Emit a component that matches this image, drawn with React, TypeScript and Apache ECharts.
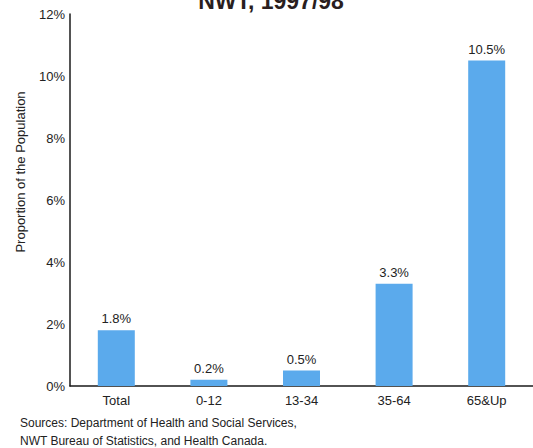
import React, { useEffect, useRef } from "react";
import * as echarts from "echarts";

const categories = ["Total", "0-12", "13-34", "35-64", "65&Up"];
const values = [1.8, 0.2, 0.5, 3.3, 10.5];
const yTicks = [0, 2, 4, 6, 8, 10, 12];
const titleText = "NWT, 1997/98";
const yAxisTitle = "Proportion of the Population";
const sourceLines = [
  "Sources: Department of Health and Social Services,",
  "NWT Bureau of Statistics, and Health Canada.",
];

const FONT = "'Liberation Sans', Arial, Helvetica, sans-serif";

export default function App() {
  const ref = useRef<HTMLDivElement>(null);
  useEffect(() => {
    if (!ref.current) return;
    const chart = echarts.init(ref.current, null, { renderer: "svg" });
    chart.setOption({
      animation: false,
      backgroundColor: "#ffffff",
      textStyle: { fontFamily: FONT },
      grid: { left: 70, top: 14, width: 470, height: 372, containLabel: false },
      xAxis: {
        type: "category",
        data: categories,
        boundaryGap: true,
        axisLine: { lineStyle: { color: "#1a1a1a", width: 1.5 } },
        axisTick: { show: false },
        axisLabel: { color: "#222", fontSize: 13, margin: 8, fontFamily: FONT },
      },
      yAxis: {
        type: "value",
        min: yTicks[0],
        max: yTicks[yTicks.length - 1],
        interval: 2,
        axisLine: { show: true, lineStyle: { color: "#1a1a1a", width: 1.5 } },
        axisTick: { show: false },
        splitLine: { show: false },
        axisLabel: {
          color: "#222",
          fontSize: 13,
          margin: 5,
          fontFamily: FONT,
          formatter: (v: number) => `${v}%`,
        },
      },
      series: [
        {
          type: "bar",
          data: values,
          barWidth: 37,
          itemStyle: { color: "#5baaec" },
          label: {
            show: true,
            position: "top",
            distance: 5,
            color: "#222",
            fontSize: 13,
            fontFamily: FONT,
            formatter: (p: any) => `${Number(p.value).toFixed(1)}%`,
          },
        },
      ],
      graphic: [
        {
          type: "text",
          x: 271,
          y: 12,
          style: {
            text: titleText,
            font: `bold 23px ${FONT}`,
            fill: "#2a1e1e",
            textAlign: "center",
            textVerticalAlign: "bottom",
          },
        },
        {
          type: "text",
          x: 20,
          y: 172,
          rotation: Math.PI / 2,
          style: {
            text: yAxisTitle,
            font: `13px ${FONT}`,
            fill: "#222",
            textAlign: "center",
            textVerticalAlign: "middle",
          },
        },
        {
          type: "text",
          x: 20,
          y: 423,
          style: {
            text: sourceLines[0],
            font: `12px ${FONT}`,
            fill: "#222",
            textVerticalAlign: "middle",
          },
        },
        {
          type: "text",
          x: 20,
          y: 441,
          style: {
            text: sourceLines[1],
            font: `12px ${FONT}`,
            fill: "#222",
            textVerticalAlign: "middle",
          },
        },
      ],
    });
    return () => chart.dispose();
  }, []);
  return (
    <div
      ref={ref}
      style={{ position: "fixed", left: 0, top: 0, width: 533, height: 448 }}
    />
  );
}
